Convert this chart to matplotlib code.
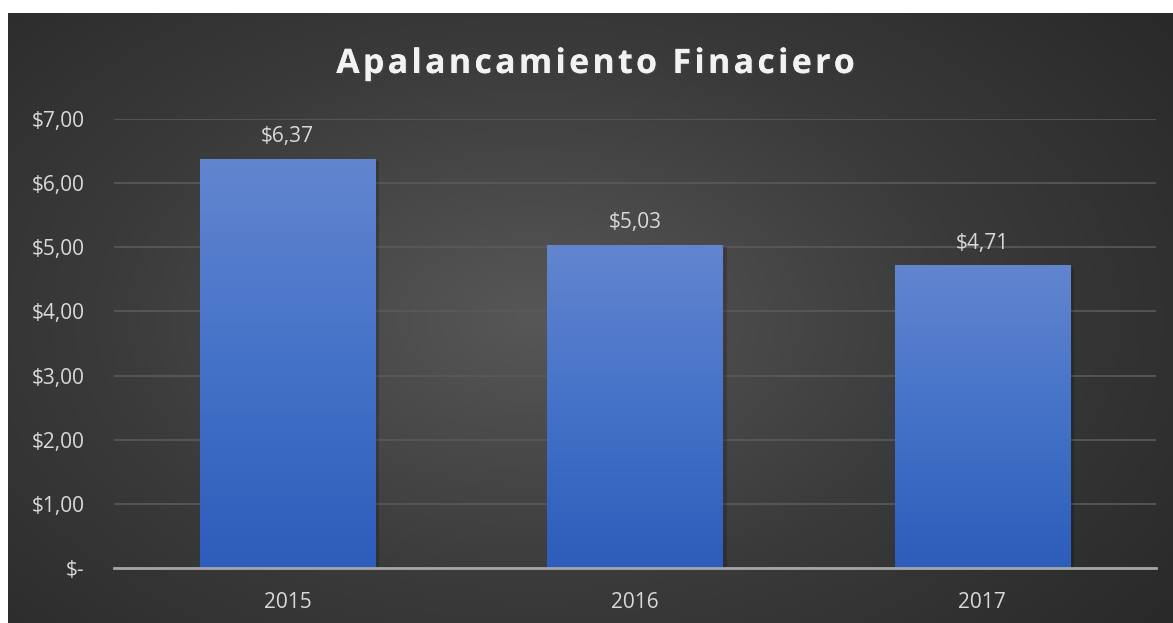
# Apalancamiento financiero - bar chart on dark gradient background

import matplotlib.pyplot as plt
import matplotlib.patheffects as pe
import numpy as np
from matplotlib.colors import LinearSegmentedColormap

years = ["2015", "2016", "2017"]
values = [6.37, 5.03, 4.71]
yticks = [0, 1, 2, 3, 4, 5, 6, 7]
ytick_labels = ["$-", "$1,00", "$2,00", "$3,00", "$4,00", "$5,00", "$6,00", "$7,00"]
value_labels = ["$6,37", "$5,03", "$4,71"]
title = "Apalancamiento Finaciero"

plt.rcParams['font.family'] = ['Open Sans', 'DejaVu Sans']

W, H = 1173, 623
fig = plt.figure(figsize=(W / 100, H / 100), dpi=100)
fig.patch.set_facecolor('white')

# dark radial background (white strip on top and left)
bg = fig.add_axes([8 / W, 0, 1 - 8 / W, 1 - 13 / H])
bg.set_axis_off()
yy, xx = np.mgrid[0:1:300j, 0:1:600j]
r = np.sqrt(((xx - 0.45) / 0.75) ** 2 + ((yy - 0.5) / 0.9) ** 2)
bg_cmap = LinearSegmentedColormap.from_list('bg', ['#575757', '#3a3a3a', '#262626'])
bg.imshow(np.clip(r, 0, 1), cmap=bg_cmap, vmin=0, vmax=1, aspect='auto',
          extent=[0, 1, 0, 1], interpolation='bilinear')

ax = fig.add_axes([114 / W, 1 - 568 / H, (1156 - 114) / W, (568 - 119) / H])
ax.patch.set_alpha(0)

x = np.arange(len(years))
bar_w = 0.504
bar_cmap = LinearSegmentedColormap.from_list('bar', ['#2d5dba', '#4472c8', '#6385cf'])
grad = np.linspace(0, 1, 256).reshape(-1, 1)
for xi, v in zip(x, values):
    # soft shadow
    ax.bar(xi + 0.012, v, width=bar_w, bottom=-0.03, color='black', alpha=0.18, zorder=2)
    ax.imshow(grad, cmap=bar_cmap, origin='lower', aspect='auto',
              extent=[xi - bar_w / 2, xi + bar_w / 2, 0, v], zorder=3)

for xi, v, lab in zip(x, values, value_labels):
    ax.text(xi, v + 0.27, lab, ha='center', va='baseline', color='#d9d9d9', fontsize=15)

ax.set_xlim(-0.5, len(years) - 0.5)
ax.set_ylim(0, 7)
ax.set_yticks(yticks)
ax.set_yticklabels(ytick_labels)
ax.set_xticks(x)
ax.set_xticklabels(years)
ax.tick_params(colors='#d9d9d9', labelsize=15, length=0)
ax.tick_params(axis='y', pad=21)
ax.tick_params(axis='x', pad=17)
ax.grid(axis='y', color='#5a5a5a', linewidth=1.2, zorder=1)
ax.set_axisbelow(True)
for s in ['top', 'right', 'left']:
    ax.spines[s].set_visible(False)
ax.spines['bottom'].set_color('#a6a6a6')
ax.spines['bottom'].set_linewidth(2)
ax.spines['bottom'].set_zorder(4)

fig.text(595 / W, 1 - 64 / H, "\u200a".join(title),
         ha='center', va='center', color='#f2f2f2', fontsize=24.3, fontweight='bold',
         path_effects=[pe.withSimplePatchShadow(offset=(1.2, -1.2), alpha=0.5), pe.Normal()])

fig.savefig('out.png', dpi=100)
